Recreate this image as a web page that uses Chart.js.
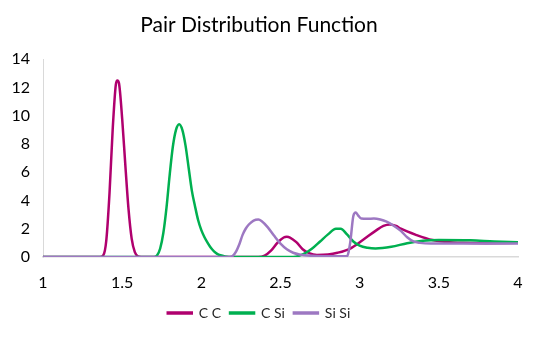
<!DOCTYPE html>
<html>
<head>
<meta charset="utf-8">
<title>Pair Distribution Function</title>
<script src="https://cdn.jsdelivr.net/npm/chart.js@4"></script>
<style>
  html, body { margin: 0; padding: 0; background: #fff; }
  #wrap { width: 538px; height: 337px; }
</style>
</head>
<body>
<div id="wrap"><canvas id="pdfChart"></canvas></div>
<script>
// r (distance) and g(r) samples for each atom pair
const ccR  = [1.0, 1.36, 1.38, 1.40, 1.42, 1.44, 1.46, 1.47, 1.48, 1.50, 1.52, 1.54, 1.56, 1.58, 1.60, 1.62,
              2.36, 2.40, 2.44, 2.48, 2.52, 2.54, 2.56, 2.60, 2.64, 2.68, 2.73, 2.80, 2.86, 2.94, 3.02,
              3.10, 3.15, 3.19, 3.23, 3.26, 3.36, 3.46, 3.55, 3.65, 3.80, 4.0];
const ccG  = [0, 0, 0.1, 1.2, 4.5, 9.0, 12.2, 12.5, 12.3, 9.8, 6.5, 3.4, 1.3, 0.35, 0.05, 0,
              0, 0.1, 0.45, 1.0, 1.38, 1.43, 1.38, 1.05, 0.55, 0.28, 0.15, 0.18, 0.3, 0.6, 1.2,
              1.85, 2.2, 2.3, 2.2, 2.0, 1.55, 1.2, 1.06, 1.0, 0.98, 1.0];

const csiR = [1.0, 1.70, 1.72, 1.74, 1.76, 1.78, 1.80, 1.82, 1.84, 1.86, 1.88, 1.90, 1.92, 1.94, 1.96, 1.98,
              2.00, 2.02, 2.04, 2.06, 2.08, 2.10, 2.12, 2.15, 2.20, 2.58, 2.62, 2.66, 2.70, 2.75, 2.80,
              2.85, 2.88, 2.92, 2.96, 3.00, 3.05, 3.10, 3.20, 3.30, 3.40, 3.50, 3.70, 3.85, 4.0];
const csiG = [0, 0, 0.1, 0.6, 1.7, 3.5, 5.8, 7.8, 9.0, 9.4, 9.0, 7.9, 6.3, 4.7, 3.6, 2.6,
              1.9, 1.4, 1.0, 0.65, 0.4, 0.22, 0.12, 0.04, 0, 0, 0.1, 0.3, 0.6, 1.1, 1.6,
              2.0, 2.0, 1.6, 1.1, 0.8, 0.65, 0.6, 0.72, 0.98, 1.15, 1.2, 1.18, 1.1, 1.05];

const sisiR = [1.0, 2.18, 2.20, 2.22, 2.24, 2.26, 2.28, 2.30, 2.33, 2.36, 2.38, 2.42, 2.46, 2.50, 2.54, 2.58,
               2.62, 2.70, 2.80, 2.92, 2.94, 2.96, 2.975, 2.99, 3.01, 3.05, 3.09, 3.13, 3.17, 3.21, 3.26,
               3.30, 3.34, 3.38, 3.45, 3.60, 3.80, 4.0];
const sisiG = [0, 0, 0.1, 0.4, 0.9, 1.55, 2.0, 2.3, 2.58, 2.65, 2.55, 2.1, 1.5, 0.95, 0.55, 0.3,
               0.18, 0.08, 0.05, 0.05, 1.0, 2.9, 3.15, 2.95, 2.72, 2.7, 2.72, 2.65, 2.5, 2.25, 1.85,
               1.4, 1.1, 1.0, 0.95, 0.95, 0.95, 0.95];

const xTicks = [1, 1.5, 2, 2.5, 3, 3.5, 4];

function toPoints(rs, gs) {
    return rs.map((r, i) => ({ x: r, y: gs[i] }));
}

const FONT = 'Lato, "Open Sans", sans-serif';

const ctx = document.getElementById('pdfChart').getContext('2d');
const chart = new Chart(ctx, {
    type: 'line',
    data: {
        datasets: [
            { label: 'C C',   data: toPoints(ccR, ccG),     borderColor: '#b0006e', backgroundColor: '#b0006e', order: 2 },
            { label: 'C Si',  data: toPoints(csiR, csiG),   borderColor: '#00b050', backgroundColor: '#00b050', order: 1 },
            { label: 'Si Si', data: toPoints(sisiR, sisiG), borderColor: '#9d78c2', backgroundColor: '#9d78c2', order: 0 }
        ]
    },
    options: {
        responsive: true,
        maintainAspectRatio: false,
        animation: false,
        layout: { padding: { left: 0, right: 20, top: 9, bottom: 7 } },
        elements: {
            point: { radius: 0 },
            line: { borderWidth: 2.5, cubicInterpolationMode: 'monotone', fill: false }
        },
        plugins: {
            title: {
                display: true,
                text: 'Pair Distribution Function',
                color: '#000',
                font: { family: FONT, size: 21, weight: 'normal' },
                padding: { top: 4, bottom: 21 }
            },
            legend: {
                position: 'bottom',
                labels: {
                    color: '#262626',
                    font: { family: FONT, size: 14 },
                    boxWidth: 24,
                    boxHeight: 1,
                    padding: 9,
                    sort: (a, b) => a.datasetIndex - b.datasetIndex
                }
            },
            tooltip: { enabled: false }
        },
        scales: {
            x: {
                type: 'linear',
                min: 1,
                max: 4,
                afterBuildTicks: (scale) => { scale.ticks = xTicks.map(v => ({ value: v })); },
                afterFit: (scale) => { scale.height = 40; },
                grid: { display: false },
                border: { display: true, color: '#d9d9d9', width: 1.5 },
                ticks: {
                    color: '#000',
                    font: { family: FONT, size: 16 },
                    maxRotation: 0,
                    padding: 8,
                    callback: (v) => String(v)
                }
            },
            y: {
                min: 0,
                max: 14,
                afterFit: (scale) => { scale.width = 43; },
                grid: { display: false },
                border: { display: true, color: '#d9d9d9', width: 1 },
                ticks: { stepSize: 2, color: '#000', font: { family: FONT, size: 16 }, padding: 5 }
            }
        }
    }
});
</script>
</body>
</html>
